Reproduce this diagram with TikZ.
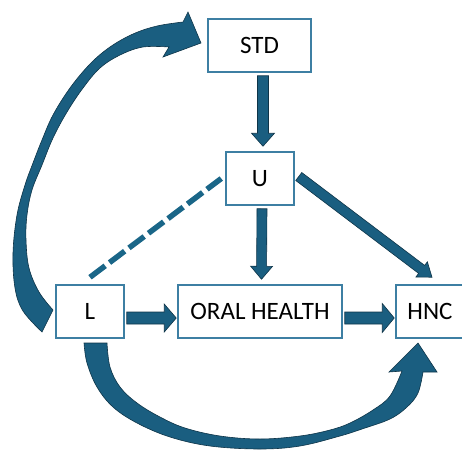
\documentclass[tikz,border=0pt]{standalone}
\usepackage{fontspec}
\setmainfont{Carlito}
\usetikzlibrary{calc}
\definecolor{arrfill}{HTML}{1A5E80}
\definecolor{arredge}{HTML}{0E3448}
\definecolor{boxedge}{HTML}{3D7FA3}
\definecolor{dashcol}{HTML}{1A6688}
\tikzset{
  box/.style={draw=boxedge, line width=1.5pt, fill=white, minimum height=53pt, inner sep=0pt, font=\fontsize{25}{27}\selectfont},
  blockarrow/.style={fill=arrfill, draw=arredge, line width=0.6pt, line join=miter},
  dashline/.style={draw=dashcol, line width=5.5pt, dash pattern=on 19pt off 5.4pt},
}
\newcommand\blockarr[5]{%
  \coordinate (ba-s) at (#1);
  \coordinate (ba-e) at (#2);
  \coordinate (ba-h) at ($(ba-e)!#5!(ba-s)$);
  \filldraw[blockarrow] ($(ba-s)!#3!90:(ba-e)$) -- ($(ba-h)!#3!90:(ba-e)$) -- ($(ba-h)!#4!90:(ba-e)$) -- (ba-e) -- ($(ba-h)!#4!-90:(ba-e)$) -- ($(ba-h)!#3!-90:(ba-e)$) -- ($(ba-s)!#3!-90:(ba-e)$) -- cycle;
}
\begin{document}
\begin{tikzpicture}[x=1pt, y=-1pt]
\useasboundingbox (0,0) rectangle (462,450);
% boxes
\node[box, minimum width=103pt] (STD) at (259.5,45.5) {STD};
\node[box, minimum width=68pt] (U) at (260,178.5) {U};
\node[box, minimum width=68pt] (L) at (90,311.5) {L};
\node[box, minimum width=164pt] (OH) at (260,311.5) {ORAL HEALTH};
\node[box, minimum width=68pt] (HNC) at (430,311.5) {HNC};
% straight block arrows
\blockarr{$(STD.south)+(3.5,3)$}{$(U.north)+(3,-5)$}{5.5pt}{11.5pt}{13pt}
\blockarr{$(U.south)+(2,3)$}{$(OH.north)+(1.5,-5)$}{5pt}{11pt}{13pt}
\blockarr{$(U.east)+(4,-2)$}{$(HNC.north)+(2,-7)$}{5pt}{9.5pt}{13pt}
\blockarr{$(L.east)+(2,6.5)$}{$(OH.west)+(-1,6.5)$}{6pt}{14pt}{12pt}
\blockarr{$(OH.east)+(2,6.5)$}{$(HNC.west)+(-1,6.5)$}{6pt}{14.5pt}{12pt}
% dashed association
\draw[dashline] ($(L.north)+(0,-7)$) -- ($(U.west)+(-4,0)$);
% curved arrow L -> STD
\filldraw[blockarrow] plot[smooth, tension=0.6] coordinates {(42,332) (23,311) (15,288) (13,253) (17,215) (25,185) (33,163) (42,140) (53,115) (70,88) (90,64) (110,47) (133,34) (157,26) (183,22)}
  -- (188,12) -- (201,43) -- (163,57) -- (169,47)
  -- plot[smooth, tension=0.6] coordinates {(169,47) (143,47) (120,55) (100,68) (83,88) (67,112) (53,138) (42,165) (32,190) (27,215) (26,240) (29,268) (39,292) (53,310)}
  -- cycle;
% curved arrow L -> HNC
\filldraw[blockarrow] plot[smooth, tension=0.6] coordinates {(84,343) (87,363) (97,387) (113,407) (137,423) (170,437) (210,446) (260,449) (300,446) (340,436) (362,429) (390,419) (407,407) (418,393) (423,372)}
  -- (437,372) -- (418,343) -- (389,372) -- (402,371)
  -- plot[smooth, tension=0.6] coordinates {(402,371) (390,396) (373,410) (350,423) (330,430) (300,436) (260,439) (220,436) (185,428) (160,417) (137,403) (120,387) (110,367) (107,343)}
  -- cycle;
\end{tikzpicture}
\end{document}
